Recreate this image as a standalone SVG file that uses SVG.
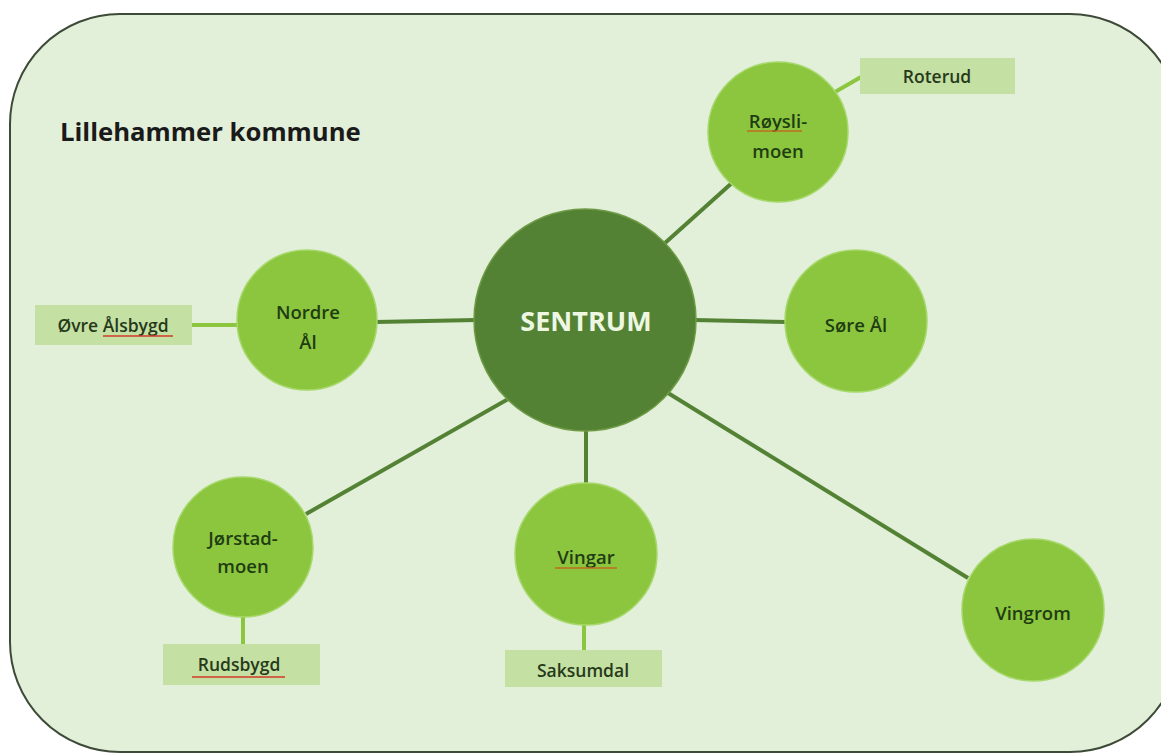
<svg xmlns="http://www.w3.org/2000/svg" width="1161" height="754" viewBox="0 0 1161 754">
<style>
.bg{fill:#e2efd9;stroke:#3d4a37;stroke-width:2}
.c{fill:#8cc63f;stroke:#a6d86a;stroke-width:1.5}
.main{fill:#548235;stroke:#6e9b44;stroke-width:1.5}
.box{fill:#c5e0a3}
.con line{stroke:#548235;stroke-width:4}
.sub line{stroke:#8cc63f;stroke-width:4}
text{font-family:"Open Sans","Liberation Sans",sans-serif;text-anchor:middle;dominant-baseline:central}
.t{font-size:18.5px;font-weight:600;fill:#1f3d12}
.b{font-size:17.5px;font-weight:600;fill:#263a1a}
.s{stroke:#d03a2a;stroke-width:1.3;fill:none}
</style>
<rect class="bg" x="10" y="14" width="1170" height="738" rx="110" ry="110"/>
<text x="60" y="131" style="text-anchor:start;font-size:25.7px;font-weight:700;fill:#1a1a1a">Lillehammer kommune</text>
<g class="con">
<line x1="665" y1="243" x2="733" y2="182"/>
<line x1="694" y1="320" x2="786" y2="322"/>
<line x1="376" y1="322" x2="476" y2="320"/>
<line x1="510" y1="398" x2="306" y2="514"/>
<line x1="586" y1="428" x2="586" y2="484"/>
<line x1="668" y1="393" x2="968" y2="578"/>
</g>
<g class="sub">
<line x1="835" y1="92" x2="861" y2="77"/>
<line x1="192" y1="325" x2="237" y2="325"/>
<line x1="243" y1="615" x2="243" y2="645"/>
<line x1="584" y1="622" x2="584" y2="650"/>
</g>
<g id="roterud"><rect class="box" x="860" y="58" width="155" height="36"/><text class="b" x="937" y="76">Roterud</text></g>
<g id="ovre-alsbygd"><rect class="box" x="35" y="305" width="157" height="40"/><text class="b" x="113" y="325">Øvre Ålsbygd</text><path class="s" d="M103 336 H173"/></g>
<g id="rudsbygd"><rect class="box" x="163" y="644" width="157" height="41"/><text class="b" x="239" y="664">Rudsbygd</text><path class="s" d="M192 677 H285"/></g>
<g id="saksumdal"><rect class="box" x="505" y="650" width="157" height="37"/><text class="b" x="583" y="670">Saksumdal</text></g>
<g id="sentrum"><circle class="main" cx="585" cy="320" r="111"/><text x="586" y="320" style="font-size:27px;font-weight:700;fill:#eef7e2">SENTRUM</text></g>
<g id="roysli-moen"><circle class="c" cx="778" cy="132" r="70"/><text class="t" x="778" y="120">Røysli-</text><text class="t" x="778" y="150">moen</text><path class="s" d="M747 131 H802" style="stroke:#c06a20"/></g>
<g id="nordre-al"><circle class="c" cx="307" cy="320" r="70"/><text class="t" x="308" y="311">Nordre</text><text class="t" x="308" y="341">Ål</text></g>
<g id="sore-al"><circle class="c" cx="856" cy="321" r="71"/><text class="t" x="856" y="324">Søre Ål</text></g>
<g id="jorstad-moen"><circle class="c" cx="243" cy="547" r="70"/><text class="t" x="243" y="537">Jørstad-</text><text class="t" x="243" y="565">moen</text></g>
<g id="vingar"><circle class="c" cx="586" cy="554" r="71"/><text class="t" x="586" y="556">Vingar</text><path class="s" d="M555 568 H617" style="stroke:#c06a20"/></g>
<g id="vingrom"><circle class="c" cx="1033" cy="610" r="71"/><text class="t" x="1033" y="612">Vingrom</text></g>
</svg>
